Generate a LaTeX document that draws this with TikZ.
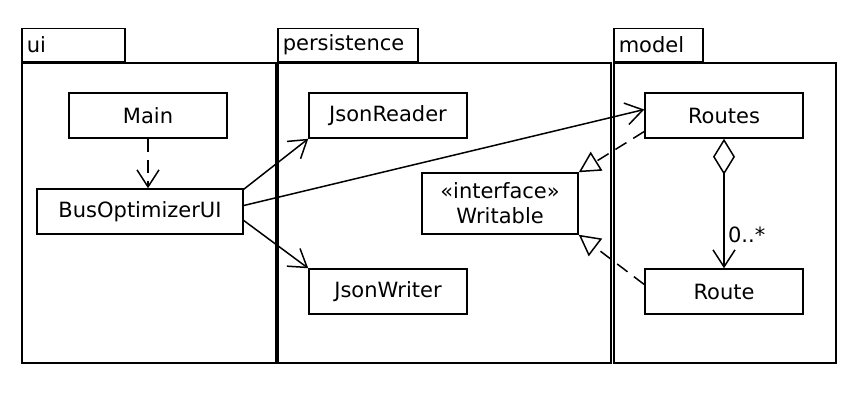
\documentclass[tikz,border=0pt]{standalone}
\usepackage{fontspec}
\setmainfont{DejaVu Sans}
\usetikzlibrary{arrows.meta, positioning}

\tikzset{
    pkgbody/.style={draw, anchor=north west, minimum height=300pt, inner sep=0pt},
    pkgtab/.style={draw, anchor=south west, minimum height=33pt, inner xsep=5pt, inner ysep=0pt, align=left},
    cls/.style={draw, minimum height=45pt, inner sep=0pt, align=center},
    assoc/.style={-{Straight Barb[length=17pt, width=22pt]}},
    depend/.style={dash pattern=on 13pt off 8pt, -{Straight Barb[length=17pt, width=22pt]}},
    realize/.style={dash pattern=on 13pt off 8pt, -{Triangle[open, length=21pt, width=22pt]}},
    aggr/.style={{Diamond[open, length=36pt, width=22pt]}-{Straight Barb[length=17pt, width=22pt]}}
}

\begin{document}
\begin{tikzpicture}[x=1pt, y=-1pt, line width=1.5pt, font=\fontsize{21}{25}\selectfont]
    \useasboundingbox (0,0) rectangle (856,392);

    % packages
    \node[pkgbody, minimum width=254pt] (ui) at (21,62) {};
    \node[pkgtab, text width=93pt] (uitab) at (21,62) {ui};
    \node[pkgbody, minimum width=333pt] (persistence) at (277,62) {};
    \node[pkgtab, text width=130pt] (persistencetab) at (277,62) {persistence};
    \node[pkgbody, minimum width=222pt] (model) at (613,62) {};
    \node[pkgtab, text width=79pt] (modeltab) at (613,62) {model};

    % classes
    \node[cls, minimum width=158pt] (main) at (148,115.5) {Main};
    \node[cls, minimum width=206pt] (busui) at (140,211.5) {BusOptimizerUI};
    \node[cls, minimum width=158pt] (reader) at (388,115.5) {JsonReader};
    \node[cls, minimum width=158pt] (writer) at (388,291.5) {JsonWriter};
    \node[cls, minimum width=156pt, minimum height=61pt] (writable) at (500,203.5) {«interface»\\Writable};
    \node[cls, minimum width=158pt] (routes) at (724,115.5) {Routes};
    \node[cls, minimum width=158pt] (route) at (724,291.5) {Route};

    \draw[depend] (main) -- (main.south |- busui.north);
    \draw[assoc] ([yshift=-1pt]busui.north east) -- (reader.south west);
    \draw[assoc] ([yshift=6pt]busui.east) -- ([yshift=6pt]routes.west);
    \draw[assoc] ([yshift=-9pt]busui.east) -- (writer.north west);
    \draw[realize] ([yshift=-16pt]routes.west) -- (writable.north east);
    \draw[realize] ([yshift=7pt]route.west) -- (writable.south east);
    \draw[aggr] (routes) -- node[pos=0.74, right] (mult) {0..*} (route);
\end{tikzpicture}
\end{document}
